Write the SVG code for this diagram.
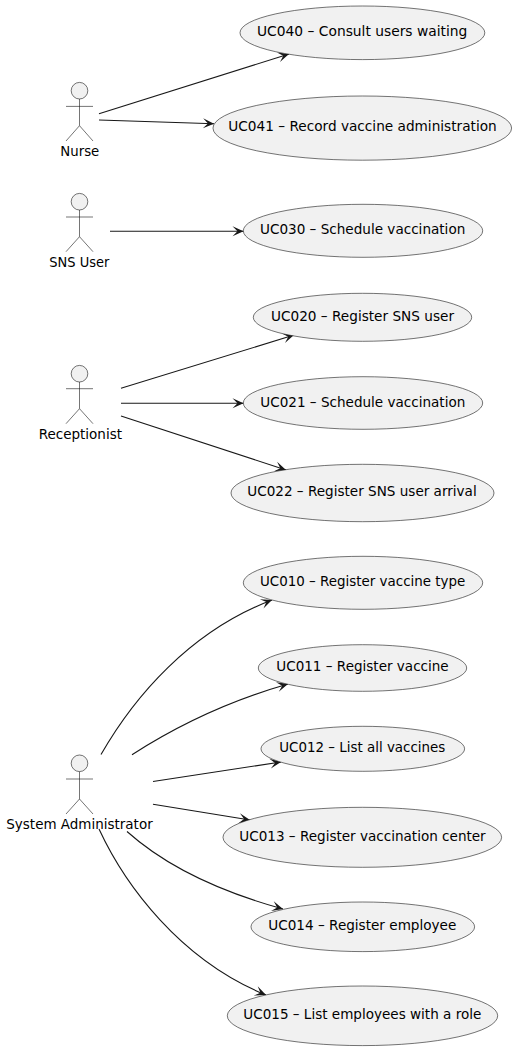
<svg xmlns="http://www.w3.org/2000/svg" width="516" height="1050" viewBox="0 0 516 1050">
<style>
text{font-family:"DejaVu Sans","Liberation Sans",sans-serif;font-size:14.6px;fill:#000}
.uc ellipse{fill:#F1F1F1;stroke:#181818;stroke-width:.6}
.actor circle{fill:#F1F1F1;stroke:#181818;stroke-width:.6}
.actor path{fill:none;stroke:#181818;stroke-width:.6}
#connectors path{fill:none;stroke:#181818;stroke-width:1.1;marker-end:url(#arrow)}
</style>
<defs>
<marker id="arrow" markerUnits="userSpaceOnUse" markerWidth="16" markerHeight="14" refX="12" refY="7" orient="auto">
<path d="M12,7 L1,2 L6,7 L1,12 Z" fill="#181818"/>
</marker>
</defs>
<rect width="516" height="1050" fill="#fff"/>
<g id="connectors">
<path d="M99,113.7 L289,54"/>
<path d="M99,120 L214,123.7"/>
<path d="M110,231.3 L243.5,231.3"/>
<path d="M121,388.3 L294,335"/>
<path d="M121,403.3 L243.5,403.3"/>
<path d="M121,416 L286,470"/>
<path d="M101,754.5 C134,697 190,631 272,600"/>
<path d="M132,754.7 C175,727 225,702 288,684"/>
<path d="M153,781.5 L281,762"/>
<path d="M153,804.3 L250,820"/>
<path d="M127,831.5 C170,870 225,893 283,909"/>
<path d="M99,829 C125,885 180,960 266,995"/>
</g>
<g id="nurse" class="actor"><circle cx="79.5" cy="90.7" r="8.3"/><path d="M79.5,99V125.7M66,106.4H93M79.5,125.7L66,141M79.5,125.7L93,141"/><text x="60.3" y="156" textLength="39" lengthAdjust="spacingAndGlyphs">Nurse</text></g>
<g id="sns-user" class="actor"><circle cx="79.5" cy="201.7" r="8.3"/><path d="M79.5,210V236.7M66,217H93M79.5,236.7L66,251.7M79.5,236.7L93,251.7"/><text x="49.3" y="266.7" textLength="60" lengthAdjust="spacingAndGlyphs">SNS User</text></g>
<g id="receptionist" class="actor"><circle cx="79.5" cy="373.7" r="8.3"/><path d="M79.5,382V408.7M66,388.7H93M79.5,408.7L66,423.7M79.5,408.7L93,423.7"/><text x="38.7" y="439" textLength="83.3" lengthAdjust="spacingAndGlyphs">Receptionist</text></g>
<g id="system-administrator" class="actor"><circle cx="79.5" cy="763.3" r="8.3"/><path d="M79.5,771.7V799M66,779H93M79.5,799L66,814M79.5,799L93,814"/><text x="6.3" y="829" textLength="146.4" lengthAdjust="spacingAndGlyphs">System Administrator</text></g>
<g id="uc040" class="uc"><ellipse cx="362.4" cy="32.8" rx="122.4" ry="26.8"/><text x="257" y="36" textLength="210.3" lengthAdjust="spacingAndGlyphs">UC040 – Consult users waiting</text></g>
<g id="uc041" class="uc"><ellipse cx="362.3" cy="128.1" rx="149.3" ry="32.1"/><text x="228.3" y="131.3" textLength="268.4" lengthAdjust="spacingAndGlyphs">UC041 – Record vaccine administration</text></g>
<g id="uc030" class="uc"><ellipse cx="363" cy="230.8" rx="119.7" ry="26.5"/><text x="260" y="234.3" textLength="205.3" lengthAdjust="spacingAndGlyphs">UC030 – Schedule vaccination</text></g>
<g id="uc020" class="uc"><ellipse cx="362.5" cy="317.3" rx="109.2" ry="24"/><text x="271" y="320.7" textLength="183" lengthAdjust="spacingAndGlyphs">UC020 – Register SNS user</text></g>
<g id="uc021" class="uc"><ellipse cx="363" cy="403" rx="119.7" ry="26.3"/><text x="260.3" y="406.5" textLength="205" lengthAdjust="spacingAndGlyphs">UC021 – Schedule vaccination</text></g>
<g id="uc022" class="uc"><ellipse cx="362.5" cy="493" rx="131.5" ry="28.7"/><text x="247.3" y="496.4" textLength="229.4" lengthAdjust="spacingAndGlyphs">UC022 – Register SNS user arrival</text></g>
<g id="uc010" class="uc"><ellipse cx="363" cy="582.8" rx="119.7" ry="26.5"/><text x="260" y="586.2" textLength="205.3" lengthAdjust="spacingAndGlyphs">UC010 – Register vaccine type</text></g>
<g id="uc011" class="uc"><ellipse cx="362.5" cy="668" rx="104.2" ry="23.3"/><text x="276.3" y="671.4" textLength="172.4" lengthAdjust="spacingAndGlyphs">UC011 – Register vaccine</text></g>
<g id="uc012" class="uc"><ellipse cx="362.8" cy="748.8" rx="101.8" ry="22.5"/><text x="279.3" y="752.2" textLength="166" lengthAdjust="spacingAndGlyphs">UC012 – List all vaccines</text></g>
<g id="uc013" class="uc"><ellipse cx="362.3" cy="837.3" rx="139.3" ry="30"/><text x="239.3" y="840.7" textLength="246.4" lengthAdjust="spacingAndGlyphs">UC013 – Register vaccination center</text></g>
<g id="uc014" class="uc"><ellipse cx="362.8" cy="926.8" rx="111.8" ry="24.8"/><text x="268.3" y="930.2" textLength="188" lengthAdjust="spacingAndGlyphs">UC014 – Register employee</text></g>
<g id="uc015" class="uc"><ellipse cx="362.5" cy="1015.8" rx="135.2" ry="29.8"/><text x="243.3" y="1019.2" textLength="238" lengthAdjust="spacingAndGlyphs">UC015 – List employees with a role</text></g>
</svg>
